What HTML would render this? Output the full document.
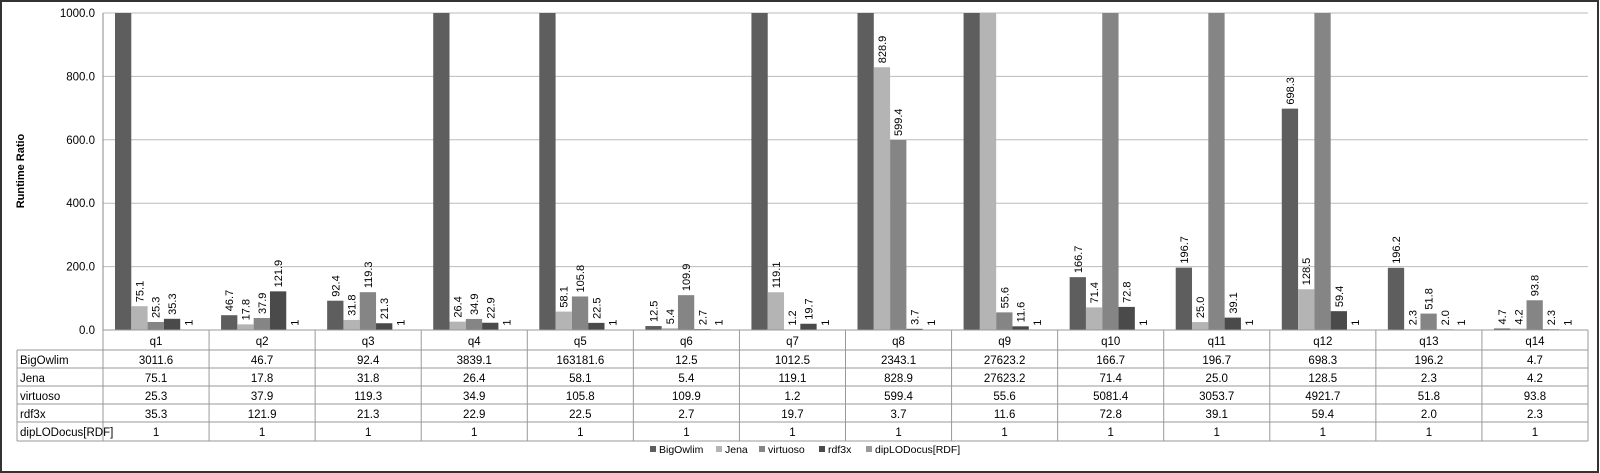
<!DOCTYPE html>
<html><head><meta charset="utf-8"><style>
body{margin:0;background:#fff;}
svg{display:block;font-family:"Liberation Sans",sans-serif;}
</style></head><body>
<svg id="c" width="1600" height="473">
<rect x="1" y="1" width="1597" height="471" fill="#fff" stroke="#333" stroke-width="2"/>
<text transform="translate(24,171) rotate(-90)" text-anchor="middle" font-size="11" font-weight="bold" fill="#000">Runtime Ratio</text>
<g id="grid"></g><g id="bars"></g><g id="table"></g><g id="legend"></g>
</svg>
<script>
const categories=["q1","q2","q3","q4","q5","q6","q7","q8","q9","q10","q11","q12","q13","q14"];
const seriesNames=["BigOwlim","Jena","virtuoso","rdf3x","dipLODocus[RDF]"];
const bigowlim=[3011.6,46.7,92.4,3839.1,163181.6,12.5,1012.5,2343.1,27623.2,166.7,196.7,698.3,196.2,4.7];
const jena=[75.1,17.8,31.8,26.4,58.1,5.4,119.1,828.9,27623.2,71.4,25.0,128.5,2.3,4.2];
const virtuoso=[25.3,37.9,119.3,34.9,105.8,109.9,1.2,599.4,55.6,5081.4,3053.7,4921.7,51.8,93.8];
const rdf3x=[35.3,121.9,21.3,22.9,22.5,2.7,19.7,3.7,11.6,72.8,39.1,59.4,2.0,2.3];
const diplodocus=[1,1,1,1,1,1,1,1,1,1,1,1,1,1];
const yTicks=[0,200,400,600,800,1000];
const series=[bigowlim,jena,virtuoso,rdf3x,diplodocus];
const colors=["#5e5e5e","#b4b4b4","#858585","#4a4a4a","#999999"];
const NS="http://www.w3.org/2000/svg";
const X0=103,X1=1588,Y0=330,Y1=13,YMAX=1000;
const gw=(X1-X0)/categories.length, bw=16.3, boff=12;
function y(v){return Y0-(Math.min(v,YMAX)/YMAX)*(Y0-Y1);}
function gx(i){return X0+i*gw;}
function mk(tag,attrs,parent,text){const e=document.createElementNS(NS,tag);for(const k in attrs)e.setAttribute(k,attrs[k]);if(text!==undefined)e.textContent=text;parent.appendChild(e);return e;}
const grid=document.getElementById('grid');
yTicks.forEach(t=>{
 const l=mk('line',{x1:X0,x2:X1,y1:y(t),y2:y(t),stroke:t===0?'#888':'#bbb','stroke-width':1},grid);
 
 
 const tx=mk('text',{x:X0-8,y:y(t)+4,'text-anchor':'end','font-size':11.5},grid,t.toFixed(1));
 
 
});
const ax=mk('line',{x1:X0,x2:X0,y1:Y1,y2:Y0,stroke:'#888'},grid);


const bars=document.getElementById('bars');
categories.forEach((c,i)=>{
 series.forEach((s,j)=>{
  const v=s[i];const bx=gx(i)+boff+j*bw;const top=y(v);
  const r=mk('rect',{x:bx,y:top,width:bw,height:Y0-top,fill:colors[j]},bars);
  
  
  if(v<YMAX){
   const lx=bx+bw/2+4,ly=top-4;
   const t=mk('text',{x:lx,y:ly,transform:`rotate(-90 ${lx} ${ly})`,'font-size':11,fill:'#000'},bars,j===4?String(v):v.toFixed(1));
   
   
  }
 });
});
const tbl=document.getElementById('table');
const TL=17,rows=[330,350,368,386,404,422,441];
for(let r=0;r<rows.length;r++){
 const lx=r===0?X0:TL;
 const l=mk('line',{x1:lx,x2:X1,y1:rows[r],y2:rows[r],stroke:'#999'},tbl);
 
 
}
const lv=mk('line',{x1:TL,x2:TL,y1:350,y2:441,stroke:'#999'},tbl);


for(let i=0;i<=categories.length;i++){
 const l=mk('line',{x1:gx(i),x2:gx(i),y1:330,y2:441,stroke:'#999'},tbl);
 
 
}
categories.forEach((c,i)=>{
 const t=mk('text',{x:gx(i)+gw/2,y:345,'text-anchor':'middle','font-size':11.5},tbl,c);
 
 
});
seriesNames.forEach((n,j)=>{
 const ry=rows[j+1]+14;
 const t=mk('text',{x:TL+3,y:ry,'font-size':11.5},tbl,n);
 
 
 series[j].forEach((v,i)=>{
  const c=mk('text',{x:gx(i)+gw/2,y:ry,'text-anchor':'middle','font-size':11.5},tbl,j===4?String(v):v.toFixed(1));
  
  
 });
});
const leg=document.getElementById('legend');
const lxs=[650,716,759,819,866];
seriesNames.forEach((n,j)=>{
 const g=mk('g',{},leg);
 
 
 mk('rect',{x:lxs[j],y:446,width:6,height:6,fill:colors[j]},g);
 mk('text',{x:lxs[j]+9,y:453,'font-size':10.5},g,n);
});
</script>
</body></html>
